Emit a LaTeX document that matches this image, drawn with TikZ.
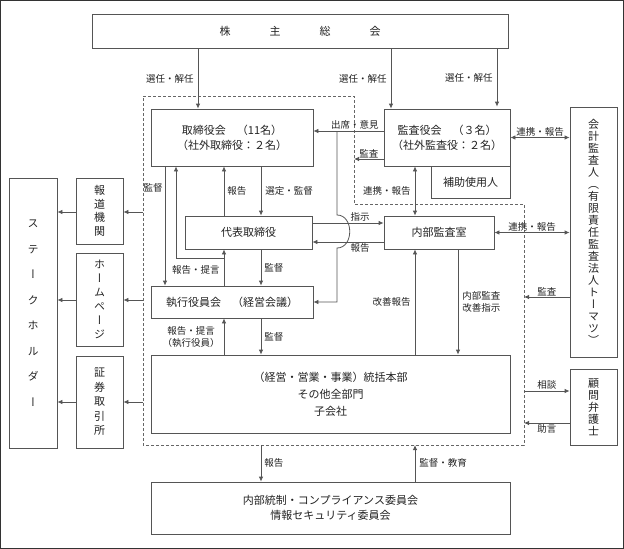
\documentclass[tikz,border=0pt]{standalone}
\usepackage{fontspec}
\setmainfont{Noto Sans CJK JP}
\newfontfamily\vfont[RawFeature=+vert]{Noto Sans CJK JP}
\usetikzlibrary{arrows.meta,calc}
\definecolor{txt}{HTML}{222222}
\definecolor{linec}{HTML}{555555}
\definecolor{dashc}{HTML}{666666}
\definecolor{framec}{HTML}{333333}
\begin{document}
\begin{tikzpicture}[x=1pt,y=-1pt,
  box/.style={draw=linec,line width=0.8pt,inner sep=0pt,align=center,text=txt,font=\fontsize{11}{15}\selectfont},
  lbl/.style={font=\fontsize{9.5}{12}\selectfont,text=txt,inner sep=1pt,align=center},
  arr/.style={draw=linec,line width=0.8pt,-{Latex[length=5pt,width=4.5pt]}},
  darr/.style={draw=linec,line width=0.8pt,{Latex[length=5pt,width=4.5pt]}-{Latex[length=5pt,width=4.5pt]}},
  dashline/.style={draw=dashc,line width=0.8pt,dash pattern=on 3pt off 2pt}]
\useasboundingbox (0,0) rectangle (624,549);
\draw[draw=framec,line width=1pt] (0.5,0.5) rectangle (623.5,548.5);

% dashed region
\draw[dashline] (143,96) -- (354,96) -- (354,204) -- (524,204) -- (524,445) -- (143,445) -- cycle;

% boxes
\node[box,minimum width=416pt,minimum height=34pt] (sh) at (300,31) {株\hspace{39pt}主\hspace{39pt}総\hspace{39pt}会};
\node[box,minimum width=162pt,minimum height=57pt] (tb) at (232,137.5) {取締役会　（11名）\\（社外取締役：２名）};
\node[box,minimum width=126pt,minimum height=57pt] (ka) at (447,137.5) {監査役会　（３名）\\（社外監査役：２名）};
\node[box,minimum width=79pt,minimum height=32pt] (ho) at (470.5,182) {補助使用人};
\node[box,minimum width=47pt,minimum height=250pt,font=\vfont\fontsize{11}{12}\selectfont] (kk) at (593.5,232) {会\\計\\監\\査\\人\\（\\有\\限\\責\\任\\監\\査\\法\\人\\ト\\ー\\マ\\ツ\\）};
\node[box,minimum width=47pt,minimum height=76pt,font=\vfont\fontsize{11}{12}\selectfont] (km) at (593.5,407) {顧\\問\\弁\\護\\士};
\node[box,minimum width=127pt,minimum height=33pt] (dh) at (248.5,232.5) {代表取締役};
\node[box,minimum width=110pt,minimum height=33pt] (nb) at (439,232.5) {内部監査室};
\node[box,minimum width=162pt,minimum height=32pt] (sy) at (232,302) {執行役員会　（経営会議）};
\node[box,minimum width=359pt,minimum height=78pt,font=\fontsize{11}{17}\selectfont] (tk) at (330.5,394) {（経営・営業・事業）統括本部\\その他全部門\\子会社};
\node[box,minimum width=359pt,minimum height=52pt] (ii) at (330.5,508) {内部統制・コンプライアンス委員会\\情報セキュリティ委員会};
\node[box,minimum width=48pt,minimum height=270pt,font=\vfont\fontsize{11}{25.5}\selectfont] (st) at (33,313) {ス\\テ\\ー\\ク\\ホ\\ル\\ダ\\ー};
\node[box,minimum width=47pt,minimum height=66pt,font=\vfont\fontsize{11}{13.5}\selectfont] (md) at (99.5,211) {報\\道\\機\\関};
\node[box,minimum width=47pt,minimum height=93pt,font=\vfont\fontsize{11}{14}\selectfont] (hp) at (99.5,299.5) {ホ\\ー\\ム\\ペ\\ー\\ジ};
\node[box,minimum width=47pt,minimum height=92pt,font=\vfont\fontsize{11}{14.5}\selectfont] (se) at (99.5,402) {証\\券\\取\\引\\所};

% helper coordinates
\coordinate (c165) at (165,0);
\coordinate (c176) at (176,0);
\coordinate (c198) at (198,0);
\coordinate (c224) at (224,0);
\coordinate (c261) at (261,0);
\coordinate (c391) at (391,0);
\coordinate (c415) at (415,0);
\coordinate (c458) at (458,0);
\coordinate (c497) at (497,0);
\coordinate (dA) at (354,159);
\coordinate (dB) at (524,297);
\coordinate (dC) at (524,391);
\coordinate (dD) at (524,423);
\coordinate (dE) at (261,445);
\coordinate (dF) at (415,445);
\coordinate (e1) at (143,212);
\coordinate (e2) at (143,300);
\coordinate (e3) at (143,402);
\coordinate (h0) at (337,131);
\coordinate (h1) at (337,215);
\coordinate (h2) at (337,248);
\coordinate (j1) at (224,258);

% connectors
\draw[arr] (sh.south -| c198) -- node[lbl,left=3pt]{選任・解任} (tb.north -| c198);
\draw[arr] (sh.south -| c391) -- node[lbl,left=3pt]{選任・解任} (ka.north -| c391);
\draw[arr] (sh.south -| c497) -- node[lbl,left=3pt]{選任・解任} (kk.north -| c497);
\draw[arr] ([yshift=6.5pt]ka.west) -- node[lbl,pos=0.41,above]{出席・意見} ([yshift=6.5pt]tb.east);
\draw[arr] ([yshift=-21.5pt]ka.west) -- node[lbl,above]{監査} (dA);
\draw[darr] (ka.south -| c415) -- node[lbl,left=3pt]{連携・報告} (nb.north -| c415);
\draw[darr] (ka.east) -- node[lbl,above]{連携・報告} (ka.east -| kk.west);
\draw[darr] (nb.east) -- node[lbl,above]{連携・報告} (nb.east -| kk.west);
\draw[arr] (kk.west |- dB) -- node[lbl,above]{監査} (dB);
\draw[arr] (dC) -- node[lbl,above]{相談} (km.west |- dC);
\draw[arr] (km.west |- dD) -- node[lbl,below]{助言} (dD);
\draw[arr] ([yshift=9.5pt]dh.east) -- node[lbl,pos=0.67,above]{指示} ([yshift=9.5pt]nb.west);
\draw[arr] ([yshift=-9.5pt]nb.west) -- node[lbl,pos=0.33,below]{報告} ([yshift=-9.5pt]dh.east);
\draw[arr] (h0) -- (h1) .. controls (354,215) and (354,248) .. (h2) -- (h2 |- sy.east) -- (sy.east);
\draw[arr] (dh.north -| c224) -- node[lbl,right=2pt]{報告} (tb.south -| c224);
\draw[arr] (tb.south -| c261) -- node[lbl,right=3pt]{選定・監督} (dh.north -| c261);
\draw[arr] (tb.south -| c165) -- node[lbl,pos=0.18,left=1pt]{監督} (sy.north -| c165);
\draw[arr] (sy.north -| c224) -- node[lbl,pos=0.43,left=3pt]{報告・提言} (dh.south -| c224);
\draw[arr] (j1) -- (j1 -| c176) -- (tb.south -| c176);
\draw[arr] (dh.south -| c261) -- node[lbl,right=2pt]{監督} (sy.north -| c261);
\draw[arr] (tk.north -| c224) -- node[lbl,left=3pt]{報告・提言\\（執行役員）} (sy.south -| c224);
\draw[arr] (sy.south -| c261) -- node[lbl,right=2pt]{監督} (tk.north -| c261);
\draw[arr] (tk.north -| c415) -- node[lbl,left=3pt]{改善報告} (nb.south -| c415);
\draw[arr] (nb.south -| c458) -- node[lbl,right=3pt]{内部監査\\改善指示} (tk.north -| c458);
\draw[arr] (dE) -- node[lbl,right=2pt]{報告} (ii.north -| dE);
\draw[arr] (ii.north -| dF) -- node[lbl,right=3pt]{監督・教育} (dF);
\draw[arr] (e1) -- (md.east |- e1);
\draw[arr] (md.west |- e1) -- (st.east |- e1);
\draw[arr] (e2) -- (hp.east |- e2);
\draw[arr] (hp.west |- e2) -- (st.east |- e2);
\draw[arr] (e3) -- (se.east |- e3);
\draw[arr] (se.west |- e3) -- (st.east |- e3);
\end{tikzpicture}
\end{document}
